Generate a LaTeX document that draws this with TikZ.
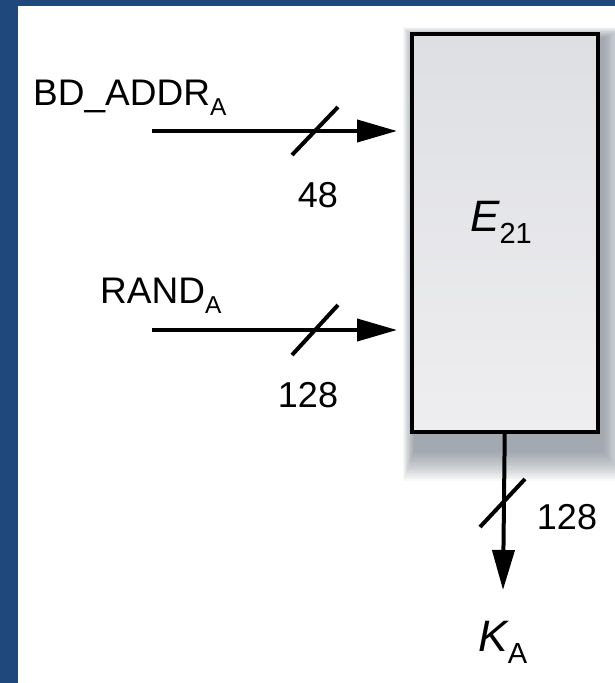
\documentclass[tikz,border=0pt]{standalone}
\usepackage{fontspec}
\setmainfont{Liberation Sans}
\usetikzlibrary{arrows.meta}
\definecolor{frameblue}{RGB}{31,72,124}
\definecolor{boxtop}{RGB}{222,223,227}
\definecolor{boxbot}{RGB}{238,238,240}
\definecolor{shadowc}{RGB}{95,105,120}
\newcommand{\lowidx}[1]{\raisebox{-0.28em}{\scalebox{0.66}{#1}}}
\tikzset{
  sig/.style={line width=4pt, -{Triangle[length=40pt,width=22pt]}},
  slash/.style={line width=4pt},
  lbl/.style={inner sep=0pt, font=\fontsize{37}{39}\selectfont},
  numlbl/.style={inner sep=0pt, font=\fontsize{36}{38}\selectfont},
  biglbl/.style={inner sep=0pt, font=\fontsize{44}{46}\selectfont\itshape},
  blockbox/.style={draw, line width=3.5pt, minimum width=186pt, minimum height=398pt,
    top color=boxtop, bottom color=boxbot, inner sep=0pt}
}
\begin{document}
\begin{tikzpicture}[x=1pt,y=-1pt]
\useasboundingbox (0,0) rectangle (615,683);
\fill[white] (0,0) rectangle (615,683);
\fill[frameblue] (0,0) rectangle (18,683);
\fill[frameblue] (0,0) rectangle (615,6);
% soft shadow
\foreach \i in {0,...,18}{
  \fill[shadowc, opacity=0.038] (414-\i*0.6,38-\i*0.6) rectangle (604+\i*1.2,452+\i*1.6);
}
\node[blockbox, anchor=north west] (E) at (410,32) {};
\node[biglbl, anchor=base] (e21) at (501,231) {E\lowidx{\upshape 21}};
% inputs
\coordinate (a1) at (152,131);
\coordinate (a2) at (152,330);
\draw[sig, shorten >=13pt] (a1) -- (E.west |- a1);
\draw[sig, shorten >=13pt] (a2) -- (E.west |- a2);
\draw[slash] (292,155) -- (338,107);
\draw[slash] (292,355) -- (338,305);
\node[lbl, anchor=base west] (bd) at (33,105) {BD\_ADDR\lowidx{A}};
\node[numlbl] (n48) at (318,195) {48};
\node[lbl, anchor=base west] (rand) at (100,303) {RAND\lowidx{A}};
\node[numlbl] (n128a) at (308,395) {128};
% output
\coordinate (kend) at (503,590);
\draw[sig] (E.south) -- (kend);
\draw[slash] (480,527) -- (525,479);
\node[numlbl] (n128b) at (567,517) {128};
\node[biglbl, anchor=base] (ka) at (503,651) {K\lowidx{\upshape A}};
\end{tikzpicture}
\end{document}
